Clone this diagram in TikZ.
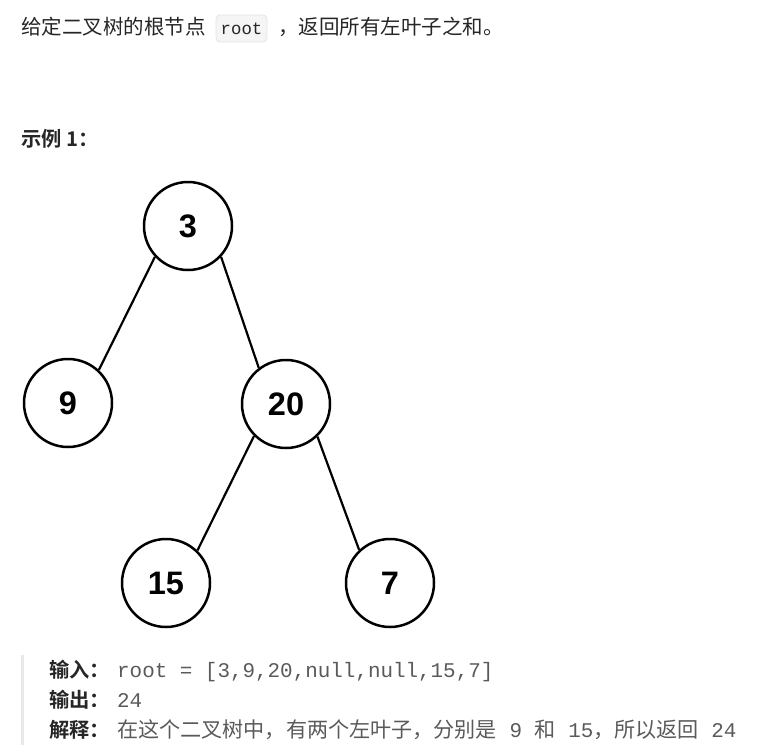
\documentclass[tikz,border=0pt]{standalone}
\usepackage{fontspec}
\newfontfamily\cjk{Noto Sans CJK SC}[BoldFont={Noto Sans CJK SC Bold}]
\newfontfamily\mono{Liberation Mono}
\newfontfamily\numfont{Liberation Sans}
\definecolor{txt}{RGB}{38,38,38}
\definecolor{val}{RGB}{90,90,90}
\definecolor{codebg}{RGB}{245,245,245}
\definecolor{codeline}{RGB}{228,228,228}
\definecolor{bar}{RGB}{232,232,232}
\newcommand{\cjkv}{\cjk\fontsize{21.1}{24}\selectfont}
\begin{document}
\begin{tikzpicture}[x=1pt,y=-1pt,
  tnode/.style={circle,draw=black,line width=2.5pt,minimum size=88pt,inner sep=0pt,
    font=\numfont\bfseries\fontsize{32.5}{32}\selectfont},
  tedge/.style={line width=2.2pt,draw=black},
  para/.style={anchor=base west,inner sep=0pt,text=txt,font=\cjk\fontsize{20.5}{24}\selectfont},
  lab/.style={anchor=base west,inner sep=0pt,text=txt,font=\cjk\bfseries\fontsize{20.3}{24}\selectfont},
  vals/.style={anchor=base west,inner sep=0pt,text=val,font=\mono\fontsize{20.9}{24}\selectfont}
]
\useasboundingbox (0,0) rectangle (770,752);
% top paragraph
\node[para] (p1) at (21,35) {给定二叉树的根节点};
\node[draw=codeline,fill=codebg,rounded corners=4pt,line width=0.8pt,minimum width=51pt,minimum height=27pt,inner sep=0pt,
  text=txt,font=\mono\fontsize{17.3}{18}\selectfont] (code) at (241.5,28.5) {root};
\node[para] (p2) at (278,35) {，返回所有左叶子之和。};
% example heading
\node[lab] (ex) at (21,146) {示例 1：};
% tree
\node[tnode] (n3) at (188,226) {3};
\node[tnode] (n9) at (68,403) {9};
\node[tnode] (n20) at (286,404) {20};
\node[tnode] (n15) at (166,583) {15};
\node[tnode] (n7) at (390,583) {7};
\draw[tedge] (n3.223) -- (n9.47);
\draw[tedge] (n3.317) -- (n20.127);
\draw[tedge] (n20.225) -- (n15.46);
\draw[tedge] (n20.314) -- (n7.133);
% example block
\fill[bar] (20.5,655) rectangle (24,745);
\node[lab] (l1) at (49,677) {输入：};
\node[vals] (v1) at (117,677) {root = [3,9,20,null,null,15,7]};
\node[lab] (l2) at (49,707) {输出：};
\node[vals] (v2) at (117,707) {24};
\node[lab] (l3) at (49,737) {解释：};
\node[vals] (v3) at (117,737) {{\cjkv 在这个二叉树中，有两个左叶子，分别是}\ 9\ {\cjkv 和}\ 15{\cjkv ，所以返回}\ 24};
\end{tikzpicture}
\end{document}
